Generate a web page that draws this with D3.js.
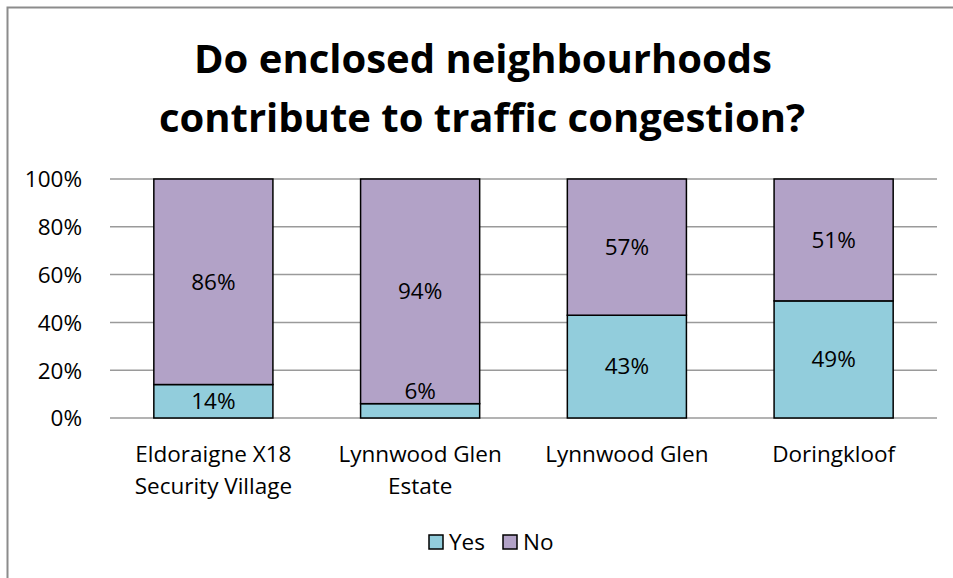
<!DOCTYPE html>
<html lang="en">
<head>
    <meta charset="UTF-8">
    <title>Enclosed neighbourhoods and traffic congestion</title>
    <script src="https://cdn.jsdelivr.net/npm/d3@7/dist/d3.min.js"></script>
</head>
<style>
    body { margin: 0; background: #fff; }
    text { font-family: "Open Sans", Lato, sans-serif; fill: #000; }
</style>
<body>
<script>
    var width = 953;
    var height = 578;

    // data
    var categories = [['Eldoraigne X18', 'Security Village'], ['Lynnwood Glen', 'Estate'], ['Lynnwood Glen'], ['Doringkloof']];
    var yesValues = [14, 6, 43, 49];
    var noValues = [86, 94, 57, 51];
    var seriesNames = ['Yes', 'No'];
    var tickValues = [0, 20, 40, 60, 80, 100];

    var colors = {Yes: '#92cddc', No: '#b2a2c7'};
    var fontSize = 22.5;

    var svg = d3.select('body')
        .append('svg')
        .attr('width', width)
        .attr('height', height)

    // chart frame (right/bottom edges fall outside the picture)
    svg.append('rect')
        .attr('x', 7.5).attr('y', 7.5)
        .attr('width', width + 20).attr('height', height + 20)
        .attr('fill', 'none')
        .attr('stroke', '#8c8c8c')
        .attr('stroke-width', 2)

    var title = svg.append('text')
        .attr('text-anchor', 'middle')
        .attr('font-size', 40)
        .attr('font-weight', 'bold')
    title.append('tspan').attr('x', 483).attr('y', 73).text('Do enclosed neighbourhoods')
    title.append('tspan').attr('x', 482).attr('y', 132).text('contribute to traffic congestion?')

    var padding = {left: 110, right: 16, top: 179, bottom: 160}

    var xScale = d3.scaleBand()
        .domain(d3.range(categories.length))
        .range([padding.left, width - padding.right])
        .paddingInner(0.424)
        .paddingOuter(0.212)

    var yScale = d3.scaleLinear()
        .domain([0, 100])
        .range([height - padding.bottom, padding.top])

    // grid lines
    svg.append('g')
        .selectAll('line')
        .data(tickValues)
        .enter()
        .append('line')
        .attr('x1', padding.left)
        .attr('x2', width - padding.right)
        .attr('y1', function (d) { return yScale(d) })
        .attr('y2', function (d) { return yScale(d) })
        .attr('stroke', '#9a9a9a')
        .attr('stroke-width', 1.5)

    // y axis labels
    var yAxis = d3.axisLeft(yScale)
        .tickValues(tickValues)
        .tickFormat(function (d) { return d + '%' })
        .tickSize(0)
        .tickPadding(28)
    var yg = svg.append('g')
        .attr('transform', 'translate(' + padding.left + ',0)')
        .call(yAxis)
    yg.select('.domain').remove()
    yg.selectAll('text')
        .attr('font-size', fontSize)
        .attr('font-family', '"Open Sans", sans-serif')
        .attr('dy', '0.35em')

    // stacked bars
    var stacks = categories.map(function (c, i) {
        return [
            {key: 'Yes', i: i, y0: 0, y1: yesValues[i]},
            {key: 'No', i: i, y0: yesValues[i], y1: yesValues[i] + noValues[i]}
        ]
    })

    var groups = svg.selectAll('.bar')
        .data(stacks)
        .enter()
        .append('g')
        .attr('class', 'bar')

    groups.selectAll('rect')
        .data(function (d) { return d })
        .enter()
        .append('rect')
        .attr('x', function (d) { return xScale(d.i) })
        .attr('y', function (d) { return yScale(d.y1) })
        .attr('width', xScale.bandwidth())
        .attr('height', function (d) { return yScale(d.y0) - yScale(d.y1) })
        .attr('fill', function (d) { return colors[d.key] })
        .attr('stroke', '#000')
        .attr('stroke-width', 1.5)

    groups.selectAll('text')
        .data(function (d) { return d })
        .enter()
        .append('text')
        .attr('text-anchor', 'middle')
        .attr('font-size', fontSize)
        .attr('x', function (d) { return xScale(d.i) + xScale.bandwidth() / 2 })
        .attr('y', function (d) {
            var v = d.y1 - d.y0
            if (v < 10) return yScale(d.y1) - 5   // small segment: label sits above
            return yScale((d.y0 + d.y1) / 2)
        })
        .attr('dy', function (d) { return (d.y1 - d.y0) < 10 ? 0 : '0.35em' })
        .text(function (d) { return (d.y1 - d.y0) + '%' })

    // category labels
    var xg = svg.append('g')
    categories.forEach(function (lines, i) {
        var t = xg.append('text')
            .attr('text-anchor', 'middle')
            .attr('font-size', fontSize)
        lines.forEach(function (l, j) {
            t.append('tspan')
                .attr('x', xScale(i) + xScale.bandwidth() / 2)
                .attr('y', 462 + j * 32)
                .text(l)
        })
    })

    // legend
    var legend = svg.append('g')
    var legendX = [429, 503]
    seriesNames.forEach(function (s, i) {
        legend.append('rect')
            .attr('x', legendX[i]).attr('y', 535)
            .attr('width', 14).attr('height', 14)
            .attr('fill', colors[s])
            .attr('stroke', '#000')
            .attr('stroke-width', 1.5)
        legend.append('text')
            .attr('x', legendX[i] + 20).attr('y', 550)
            .attr('font-size', fontSize)
            .text(s)
    })
</script>

</body>
</html>
